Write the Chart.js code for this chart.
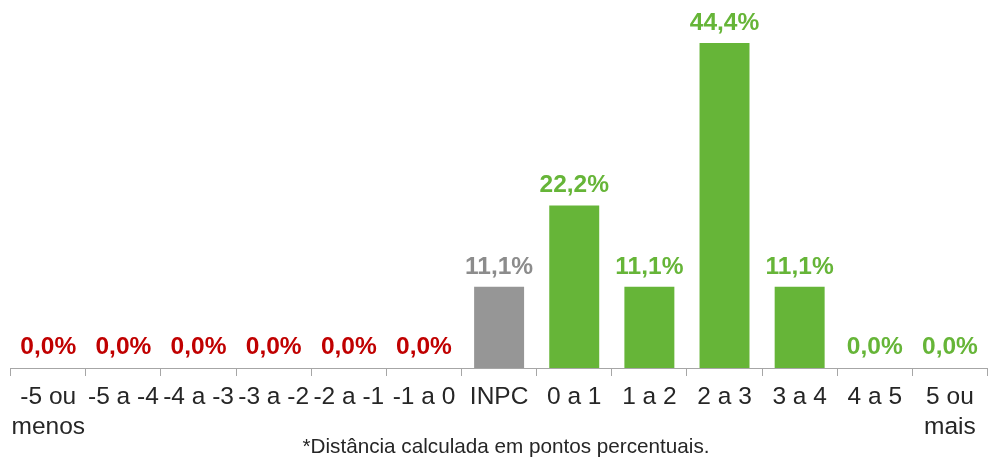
<!DOCTYPE html>
<html>
<head>
<meta charset="utf-8">
<script src="https://cdn.jsdelivr.net/npm/chart.js@4"></script>
<style>
  html, body { margin: 0; padding: 0; background: #fff; }
  #wrap { width: 989px; height: 457px; }
</style>
</head>
<body>
<div id="wrap"><canvas id="chart" width="989" height="457"></canvas></div>
<script>
const categories = [['-5 ou', 'menos'], '-5 a -4', '-4 a -3', '-3 a -2', '-2 a -1', '-1 a 0', 'INPC',
  '0 a 1', '1 a 2', '2 a 3', '3 a 4', '4 a 5', ['5 ou', 'mais']];
const values = [0, 0, 0, 0, 0, 0, 11.1, 22.2, 11.1, 44.4, 11.1, 0, 0];
const groups = ['neg', 'neg', 'neg', 'neg', 'neg', 'neg', 'ref', 'pos', 'pos', 'pos', 'pos', 'pos', 'pos'];
const footnote = '*Distância calculada em pontos percentuais.';

const barColors = { neg: '#c00000', ref: '#969696', pos: '#66b538' };
const labelColors = { neg: '#c00000', ref: '#8c8c8c', pos: '#66b538' };
const FONT = '"Liberation Sans", Arial, sans-serif';

// value labels above each bar + footnote under the axis
const valueLabels = {
  id: 'valueLabels',
  afterDatasetsDraw(chart) {
    const ctx = chart.ctx;
    const meta = chart.getDatasetMeta(0);
    ctx.save();
    ctx.font = 'bold 24.5px ' + FONT;
    ctx.textAlign = 'center';
    ctx.textBaseline = 'alphabetic';
    meta.data.forEach((bar, i) => {
      const txt = values[i].toFixed(1).replace('.', ',') + '%';
      ctx.fillStyle = labelColors[groups[i]];
      const gap = values[i] === 0 ? 14 : 13;
      ctx.fillText(txt, bar.x, bar.y - gap);
    });
    ctx.font = '20.7px ' + FONT;
    ctx.fillStyle = '#262626';
    ctx.fillText(footnote, 506, 453);
    ctx.restore();
  }
};

new Chart(document.getElementById('chart'), {
  type: 'bar',
  data: {
    labels: categories,
    datasets: [{
      data: values,
      backgroundColor: groups.map(g => barColors[g]),
      categoryPercentage: 1,
      barPercentage: 0.665,
      borderWidth: 0
    }]
  },
  options: {
    responsive: false,
    animation: false,
    layout: { padding: { left: 10.7, right: 1.5, top: 2, bottom: 0 } },
    plugins: {
      legend: { display: false },
      tooltip: { enabled: false },
      title: { display: false }
    },
    scales: {
      x: {
        offset: true,
        grid: { display: true, offset: true, drawOnChartArea: false, drawTicks: true, tickLength: 8, color: '#a6a6a6' },
        border: { display: true, color: '#a6a6a6', width: 1 },
        ticks: {
          autoSkip: false,
          maxRotation: 0,
          minRotation: 0,
          padding: 6,
          color: '#262626',
          font: { family: FONT, size: 24.5, lineHeight: 1.24 }
        },
        afterFit(scale) { scale.height = 89; }
      },
      y: {
        display: false,
        min: 0,
        max: 50
      }
    }
  },
  plugins: [valueLabels]
});
</script>
</body>
</html>
